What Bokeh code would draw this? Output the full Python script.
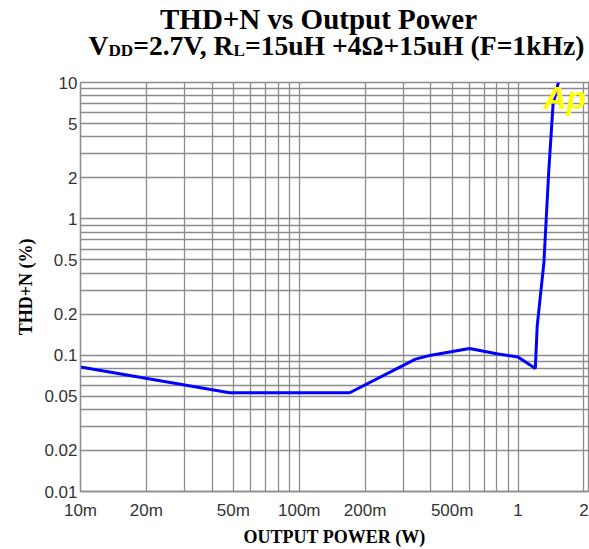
import glob
import subprocess

from bokeh.plotting import figure
from bokeh.layouts import column
from bokeh.models import FixedTicker, Label, Range1d
from bokeh.embed import file_html
from bokeh.resources import INLINE

# ---------------- data ----------------
power_w = [0.01, 0.048, 0.17, 0.34, 0.40, 0.48, 0.60, 0.81, 1.00, 1.20,
           1.224, 1.313, 1.383, 1.447, 1.53]
thdn_pct = [0.082, 0.053, 0.053, 0.0935, 0.100, 0.105, 0.112, 0.102, 0.097, 0.080,
            0.164, 0.475, 2.28, 7.0, 10.0]

x_ticks = [0.01, 0.02, 0.05, 0.1, 0.2, 0.5, 1, 2]
x_tick_labels = ["10m", "20m", "50m", "100m", "200m", "500m", "1", "2"]
y_ticks = [0.01, 0.02, 0.05, 0.1, 0.2, 0.5, 1, 2, 5, 10]
y_tick_labels = ["0.01", "0.02", "0.05", "0.1", "0.2", "0.5", "1", "2", "5", "10"]

title_line1 = "THD+N vs Output Power"
title_parts = [("V", False), ("DD", True), ("=2.7V, R", False), ("L", True),
               ("=15uH +4\u03a9+15uH (F=1kHz)", False)]
x_label = "OUTPUT POWER (W)"
y_label = "THD+N (%)"

# ---------------- text measuring for the two-line title ----------------
def _font_file():
    try:
        out = subprocess.run(["fc-match", "-f", "%{file}", "Liberation Serif:bold"],
                             capture_output=True, text=True, timeout=5).stdout.strip()
        if out:
            return out
    except Exception:
        pass
    c = glob.glob("/usr/share/fonts/**/LiberationSerif-Bold.ttf", recursive=True)
    return c[0] if c else None

_FF = _font_file()
_font100 = None
try:
    from PIL import ImageFont
    _font100 = ImageFont.truetype(_FF, 100)
except Exception:
    _font100 = None

def text_width(s, size):
    if _font100 is not None:
        try:
            return _font100.getlength(s) * size / 100.0
        except Exception:
            pass
    return 0.52 * size * len(s)

W, H = 589, 549
TITLE_H = 74
MAIN_H = H - TITLE_H
FRAME_LEFT, FRAME_RIGHT_PAD = 80, 1        # page x of the plot frame: 80 .. 588
BASELINE_FIX = 12                          # measured offset of Label baselines in the strip

# ---------------- title strip ----------------
# In a column Bokeh aligns the frames, so the strip's frame spans page x 80..588;
# its x range is therefore expressed in page pixels.
t = figure(width=W, height=TITLE_H, output_backend="svg", toolbar_location=None,
           title=None,
           x_range=Range1d(FRAME_LEFT, W - FRAME_RIGHT_PAD), y_range=Range1d(0, TITLE_H),
           x_axis_location=None, y_axis_location=None,
           min_border_left=FRAME_LEFT, min_border_right=FRAME_RIGHT_PAD,
           min_border_top=0, min_border_bottom=0)
t.grid.visible = False
t.outline_line_color = None
t.background_fill_color = "white"
t.border_fill_color = "white"

# line 1: ~317 px wide, centred at page x 318, baseline at page y 30
fs1 = round(27 * 317 / text_width(title_line1, 27), 1)
t.add_layout(Label(x=318, y=TITLE_H - 30 + BASELINE_FIX, text=title_line1,
                   text_font="Liberation Serif", text_font_style="bold",
                   text_font_size=f"{fs1}px", text_color="black",
                   text_align="center", text_baseline="alphabetic"))

# line 2 with subscripts: page x 88 .. 585, baseline at page y 57
SUB = 0.62
def _line2_width(fs):
    return sum(text_width(s, fs * SUB if sub else fs) for s, sub in title_parts)

fs2 = 27 * 496 / _line2_width(27)
x_cur = 88.0
for txt, sub in title_parts:
    size = fs2 * SUB if sub else fs2
    t.add_layout(Label(x=x_cur, y=TITLE_H - 57 + BASELINE_FIX - (5 if sub else 0), text=txt,
                       text_font="Liberation Serif", text_font_style="bold",
                       text_font_size=f"{size:.1f}px", text_color="black",
                       text_align="left", text_baseline="alphabetic"))
    x_cur += text_width(txt, size)

# ---------------- main chart ----------------
FRAME_TOP, FRAME_BOTTOM_PAD = 8, 56
p = figure(width=W, height=MAIN_H, output_backend="svg", toolbar_location=None,
           x_axis_type="log", y_axis_type="log",
           x_range=Range1d(0.01, 2.1), y_range=Range1d(0.01, 10),
           min_border_left=FRAME_LEFT, min_border_right=FRAME_RIGHT_PAD,
           min_border_top=FRAME_TOP, min_border_bottom=FRAME_BOTTOM_PAD)
FRAME_H = MAIN_H - FRAME_TOP - FRAME_BOTTOM_PAD
p.background_fill_color = "white"
p.border_fill_color = "white"
p.outline_line_color = "#8c8c8c"
p.outline_line_width = 1.3

grid_col = "#8c8c8c"
x_grid = [m * 10.0 ** e for e in (-2, -1, 0) for m in range(1, 10) if m * 10.0 ** e <= 2.0001]
y_grid = [m * 10.0 ** e for e in (-2, -1, 0) for m in range(1, 10)] + [10]
p.xgrid.ticker = FixedTicker(ticks=x_grid)
p.ygrid.ticker = FixedTicker(ticks=y_grid)
for g in (p.xgrid, p.ygrid):
    g.grid_line_color = grid_col
    g.grid_line_width = 1.3
    g.grid_line_alpha = 1.0

for ax in (p.xaxis[0], p.yaxis[0]):
    ax.axis_line_color = grid_col
    ax.axis_line_width = 1.3
    ax.major_tick_line_color = None
    ax.minor_tick_line_color = None
    ax.major_tick_out = 0
    ax.major_tick_in = 0
    ax.minor_tick_out = 0
    ax.minor_tick_in = 0
    ax.major_label_text_font = "Liberation Sans"
    ax.major_label_text_font_size = "17px"
    ax.major_label_text_color = "#333333"
    ax.axis_label_text_font = "Liberation Serif"
    ax.axis_label_text_font_style = "bold"
    ax.axis_label_text_font_size = "18px"
    ax.axis_label_text_color = "black"

p.xaxis[0].ticker = FixedTicker(ticks=x_ticks)
p.xaxis[0].major_label_overrides = {tk: s for tk, s in zip(x_ticks, x_tick_labels)}
p.xaxis[0].major_label_standoff = 9
p.xaxis[0].axis_label = x_label
p.xaxis[0].axis_label_standoff = 4

p.yaxis[0].ticker = FixedTicker(ticks=y_ticks)
p.yaxis[0].major_label_overrides = {tk: s for tk, s in zip(y_ticks, y_tick_labels)}
p.yaxis[0].major_label_standoff = 3
p.yaxis[0].axis_label = y_label
p.yaxis[0].axis_label_standoff = 5

# Ap logo, drawn under the curve
p.add_layout(Label(x=463, y=FRAME_H + 1, x_units="screen", y_units="screen", text="Ap",
                   text_font="Liberation Sans", text_font_style="bold italic",
                   text_font_size="32px", text_color="#ffff00", text_baseline="top",
                   text_align="left", level="glyph"))

p.line(power_w, thdn_pct, line_color="#0000ff", line_width=3)

layout = column(t, p, spacing=0)
open("out.html", "w").write(file_html(layout, INLINE))
